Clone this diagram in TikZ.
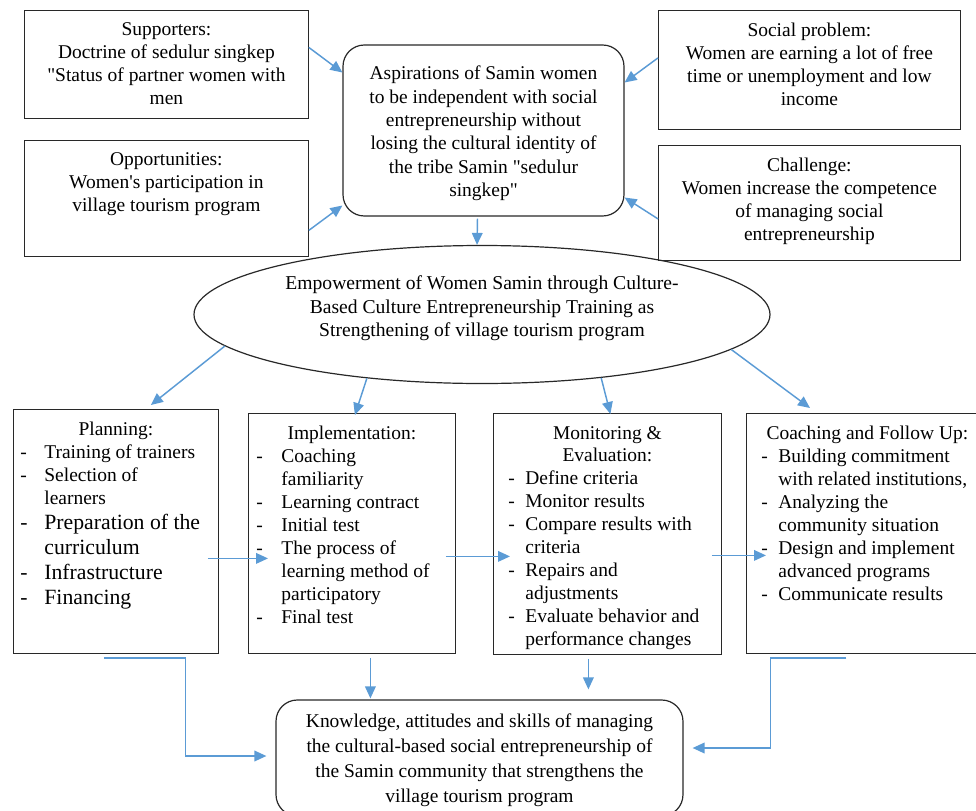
\documentclass[tikz,border=0pt]{standalone}
\usepackage{fontspec}
\setmainfont{Liberation Serif}
\usetikzlibrary{arrows.meta,shapes.geometric,calc}
\definecolor{flowblue}{RGB}{91,155,213}
\definecolor{boxline}{RGB}{40,40,40}
\newlength\dashin
\newlength\dashgap
\newcommand{\factortext}[3]{\begin{minipage}[t][#2][t]{#1}\centering\vspace*{9.5pt}#3\end{minipage}}
\newcommand{\dashitem}[1]{\par\hspace*{\dashin}\makebox[\dashgap][l]{-}#1}
\newcommand{\dashcont}[1]{\par\hspace*{\dashin}\hspace*{\dashgap}#1}
% centred lines, lifted without changing the node size
\newcommand{\liftlines}[2]{\raisebox{#1}[\height][\depth]{\begin{tabular}{@{}c@{}}#2\end{tabular}}}
\tikzset{
  factor/.style={draw=boxline, line width=0.6pt, inner sep=0pt, anchor=north west,
    font=\fontsize{14.6}{17.2}\selectfont},
  aim/.style={draw=boxline, line width=0.9pt, rounded corners=16pt,
    inner sep=0pt, font=\fontsize{14.6}{17.5}\selectfont},
  theme/.style={draw=boxline, line width=0.9pt, ellipse, inner sep=0pt,
    font=\fontsize{14.7}{17.6}\selectfont},
  flow/.style={draw=flowblue, line width=1.1pt, -{Triangle[length=9pt,width=8pt]}}
}
\begin{document}
\begin{tikzpicture}[x=0.75pt,y=0.75pt,yscale=-1,xscale=1]
\useasboundingbox (0,0) rectangle (976,811);
% Factor boxes, top row
\node[factor] (sup) at (24,10) {\factortext{213pt}{81pt}{Supporters:\\Doctrine of sedulur singkep\\\textquotedbl Status of partner women with\\men}};
\node[factor] (opp) at (24,140) {\factortext{213pt}{87pt}{Opportunities:\\Women\textquotesingle s participation in\\village tourism program}};
\node[factor] (soc) at (658,10) {\factortext{226.5pt}{89.25pt}{Social problem:\\Women are earning a lot of free\\time or unemployment and low\\income}};
\node[factor] (chal) at (658,145) {\factortext{226.5pt}{86.25pt}{Challenge:\\Women increase the competence\\of managing social\\entrepreneurship}};
% Aspirations
\node[aim, minimum width=210.75pt, minimum height=128.25pt] (asp) at (483.5,130.5) {\liftlines{-2.2pt}{Aspirations of Samin women\\to be independent with social\\entrepreneurship without\\losing the cultural identity of\\the tribe Samin \textquotedbl sedulur\\singkep\textquotedbl}};
% Empowerment ellipse
\node[theme, minimum width=432pt, minimum height=103.5pt] (emp) at (482,314.5) {\liftlines{4.5pt}{Empowerment of Women Samin through Culture-\\Based Culture Entrepreneurship Training as\\Strengthening of village tourism program}};
% Stage boxes
\node[factor] (plan) at (13,409) {\factortext{153.75pt}{183pt}{Planning:\par\raggedright
  \setlength\dashin{5.25pt}\setlength\dashgap{18pt}%
  \dashitem{Training of trainers}\dashitem{Selection of}\dashcont{learners}\par
  {\fontsize{16.3}{18.7}\selectfont\dashitem{Preparation of the}\dashcont{curriculum}\dashitem{Infrastructure}\dashitem{Financing}\par}}};
\node[factor] (imp) at (248,413) {\factortext{155.25pt}{180pt}{Implementation:\par\raggedright
  \setlength\dashin{6pt}\setlength\dashgap{18.75pt}%
  \dashitem{Coaching}\dashcont{familiarity}\dashitem{Learning contract}\dashitem{Initial test}%
  \dashitem{The process of}\dashcont{learning method of}\dashcont{participatory}\dashitem{Final test}}};
\node[factor] (mon) at (493,413) {\factortext{171pt}{180.75pt}{Monitoring \&\\Evaluation:\par\raggedright
  \setlength\dashin{11.25pt}\setlength\dashgap{12.75pt}%
  \dashitem{Define criteria}\dashitem{Monitor results}\dashitem{Compare results with}\dashcont{criteria}%
  \dashitem{Repairs and}\dashcont{adjustments}\dashitem{Evaluate behavior and}\dashcont{performance changes}}};
\node[factor] (coa) at (746,413) {\factortext{181.5pt}{180pt}{Coaching and Follow Up:\par\raggedright
  \setlength\dashin{11.25pt}\setlength\dashgap{12.75pt}%
  \dashitem{Building commitment}\dashcont{with related institutions,}\dashitem{Analyzing the}\dashcont{community situation}%
  \dashitem{Design and implement}\dashcont{advanced programs}\dashitem{Communicate results}}};
% Result
\node[aim, minimum width=305.25pt, minimum height=87pt, font=\fontsize{14.6}{18.9}\selectfont] (res) at (479.5,758) {\liftlines{-1.5pt}{Knowledge, attitudes and skills of managing\\the cultural-based social entrepreneurship of\\the Samin community that strengthens the\\village tourism program}};
% Arrows into aspirations
\draw[flow] ($(sup.east)+(0,-17)$) -- ($(asp.west)+(0,-58)$);
\draw[flow] ($(opp.east)+(0,32)$) -- ($(asp.west)+(0,75)$);
\draw[flow] ($(soc.west)+(0,-12)$) -- ($(asp.east)+(0,-48)$);
\draw[flow] ($(chal.west)+(0,16)$) -- ($(asp.east)+(0,67)$);
\draw[flow] ($(asp.south)+(-6,2)$) -- ($(emp.north)+(-5,0)$);
% Arrows out of the ellipse
\draw[flow] (emp.187.5) -- ($(plan.north)+(35,-4)$);
\draw[flow] (emp.209) -- ($(imp.north)+(3,2)$);
\draw[flow] (emp.332.5) -- ($(mon.north)+(3,1)$);
\draw[flow] (emp.352) -- ($(coa.north west)+(64,-5)$);
% Stage to stage
\draw[flow] ($(plan.east)+(-11,27)$) -- ($(imp.west)+(20,25)$);
\draw[flow] ($(imp.east)+(-10,23)$) -- ($(mon.west)+(17,22.5)$);
\draw[flow] ($(mon.east)+(-10,21.5)$) -- ($(coa.west)+(20,22)$);
% Stages to result
\draw[flow] ($(plan.south)+(-12,4)$) -| ($(res.west)+(-90,-2)$) -- ($(res.west)+(-9,-2)$);
\draw[flow] ($(imp.south)+(18.5,4)$) -- ($(imp.south |- res.north)+(18.5,-1)$);
\draw[flow] ($(mon.south)+(-19,4)$) -- ($(mon.south |- res.north)+(-19,-10)$);
\draw[flow] ($(coa.south)+(-21,4)$) -| ($(res.east)+(87,-10)$) -- ($(res.east)+(9,-10)$);
\end{tikzpicture}
\end{document}
